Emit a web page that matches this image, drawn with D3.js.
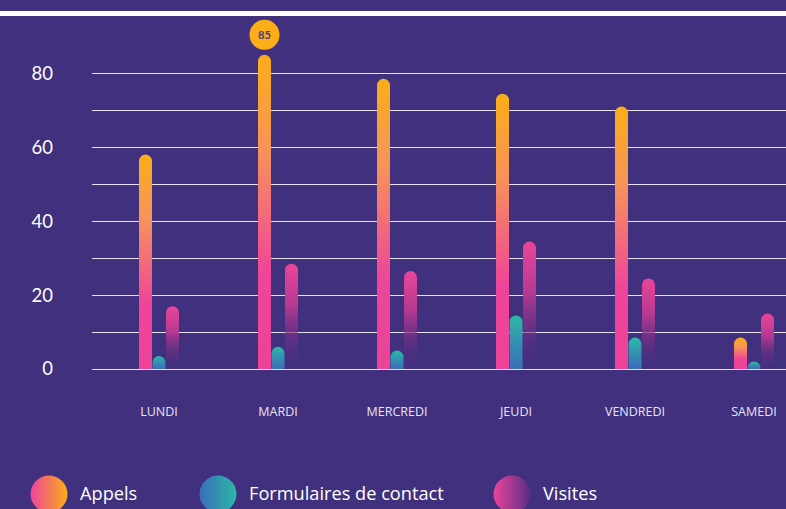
<!DOCTYPE html>
<html>
<head>
<meta charset="utf-8">
<script src="https://cdn.jsdelivr.net/npm/d3@7"></script>
<style>
  html, body { margin: 0; padding: 0; background: #40307e; overflow: hidden; }
  svg { display: block; font-family: Lato, "Open Sans", sans-serif; }
</style>
</head>
<body>
<div id="chart"></div>
<script>
const days = ["LUNDI", "MARDI", "MERCREDI", "JEUDI", "VENDREDI", "SAMEDI"];
const seriesNames = ["Appels", "Formulaires de contact", "Visites"];
const appels = [58, 85, 78.5, 74.5, 71, 8.5];
const formulaires = [3.5, 6, 5, 14.5, 8.5, 2];
const visites = [17, 28.5, 26.5, 34.5, 24.5, 15];
const yTickLabels = [0, 20, 40, 60, 80];

const width = 786;
const height = 509;
const series = [appels, formulaires, visites];
const gradIds = ["g-appels", "g-form", "g-visites"];

const svg = d3.select("#chart")
    .append("svg")
    .attr("width", width)
    .attr("height", height);

svg.append("rect")
    .attr("width", width)
    .attr("height", height)
    .attr("fill", "#40307e");

// bande blanche en haut
svg.append("rect")
    .attr("x", 0).attr("y", 11)
    .attr("width", width).attr("height", 5)
    .attr("fill", "#ffffff");

const defs = svg.append("defs");

function grad(id, horiz, stops) {
    const g = defs.append("linearGradient")
        .attr("id", id)
        .attr("x1", 0).attr("y1", 0)
        .attr("x2", horiz ? 1 : 0).attr("y2", horiz ? 0 : 1);
    stops.forEach(s => g.append("stop")
        .attr("offset", s[0]).attr("stop-color", s[1]).attr("stop-opacity", s[2] == null ? 1 : s[2]));
}

grad("g-appels", false, [[0, "#fbae17"], [0.3, "#f7935a"], [0.7, "#ee4499"], [1, "#ec4399"]]);
grad("g-form", false, [[0, "#2bb8a6"], [0.5, "#3590b2"], [1, "#3b6db9"]]);
grad("g-visites", false, [[0, "#ea4599"], [0.4, "#b53a91"], [0.75, "#6e2f86", 0.55], [1, "#5a2d84", 0]]);

grad("l-appels", true, [[0, "#ee4499"], [1, "#fbae17"]]);
grad("l-form", true, [[0, "#3b6db9"], [1, "#2bb8a6"]]);
grad("l-visites", true, [[0, "#ea4599"], [1, "#5a2d84"]]);

const y = d3.scaleLinear()
    .domain([0, 80])
    .range([369, 73.3]);

const x = d3.scaleBand()
    .domain(days)
    .range([99.5, 813.5]);

const xSub = d3.scaleBand()
    .domain(seriesNames)
    .range([-20.25, 20.25]);

// grille
const gridVals = d3.range(0, 81, 10);
svg.append("g")
    .selectAll("line")
    .data(gridVals)
    .join("line")
    .attr("x1", 92)
    .attr("x2", width)
    .attr("y1", d => Math.round(y(d)) + 0.5)
    .attr("y2", d => Math.round(y(d)) + 0.5)
    .attr("stroke", "#e6e2f2")
    .attr("stroke-width", 1.2);

// axe Y (texte seulement)
svg.append("g")
    .selectAll("text")
    .data(yTickLabels)
    .join("text")
    .attr("x", 53)
    .attr("y", d => y(d))
    .attr("dy", "0.35em")
    .attr("text-anchor", "end")
    .attr("fill", "#ffffff")
    .attr("font-size", 18.5)
    .text(d => d);

// axe X
svg.append("g")
    .selectAll("text")
    .data(days)
    .join("text")
    .attr("x", d => x(d) + x.bandwidth() / 2)
    .attr("y", 416)
    .attr("text-anchor", "middle")
    .attr("fill", "#e8e4f4")
    .attr("font-family", "'Open Sans', sans-serif")
    .attr("font-size", 12.5)
    .attr("font-weight", 500)
    .text(d => d);

function barPath(cx, w, top, bottom) {
    const r = Math.min(w / 2, bottom - top);
    const x0 = cx - w / 2, x1 = cx + w / 2;
    return `M${x0},${bottom} L${x0},${top + r} A${r},${r} 0 0 1 ${x1},${top + r} L${x1},${bottom} Z`;
}

// barres
seriesNames.forEach((name, si) => {
    svg.append("g")
        .selectAll("path")
        .data(series[si])
        .join("path")
        .attr("d", (d, i) => barPath(
            x(days[i]) + x.bandwidth() / 2 + xSub(name) + xSub.bandwidth() / 2,
            xSub.bandwidth() - 0.5,
            y(d),
            y(0)))
        .attr("fill", `url(#${gradIds[si]})`);
});

// étiquette du maximum
const maxIdx = d3.maxIndex(appels);
const bx = x(days[maxIdx]) + x.bandwidth() / 2 + xSub("Appels") + xSub.bandwidth() / 2;
const by = y(appels[maxIdx]) - 20;
svg.append("circle")
    .attr("cx", bx).attr("cy", by).attr("r", 15)
    .attr("fill", "#fbae17");
svg.append("text")
    .attr("x", bx).attr("y", by)
    .attr("dy", "0.35em")
    .attr("text-anchor", "middle")
    .attr("fill", "#4b3a78")
    .attr("font-size", 11)
    .attr("font-weight", 700)
    .text(appels[maxIdx]);

// légende
const legendX = [49, 218, 512];
const legendGrads = ["l-appels", "l-form", "l-visites"];
const legend = svg.append("g")
    .selectAll("g")
    .data(seriesNames)
    .join("g")
    .attr("transform", (d, i) => `translate(${legendX[i]}, 494)`);

legend.append("circle")
    .attr("r", 18.5)
    .attr("fill", (d, i) => `url(#${legendGrads[i]})`);

legend.append("text")
    .attr("x", 31)
    .attr("dy", "0.35em")
    .attr("fill", "#ffffff")
    .attr("font-family", "'Open Sans', sans-serif")
    .attr("font-size", 18.2)
    .text(d => d);
</script>
</body>
</html>
